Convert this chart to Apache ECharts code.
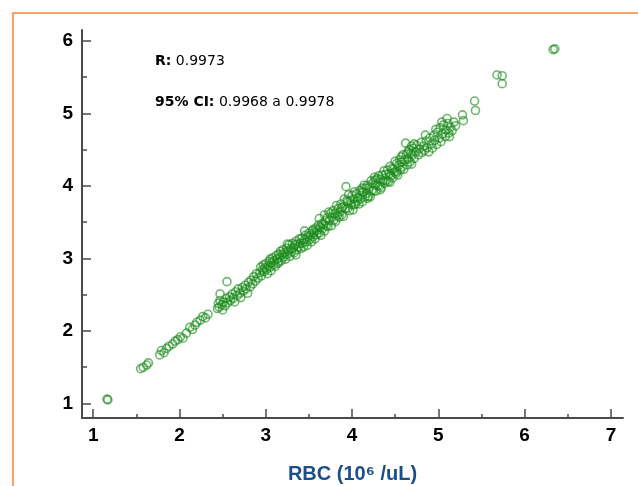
<!DOCTYPE html>
<html>
<head>
<meta charset="utf-8">
<script src="https://cdn.jsdelivr.net/npm/echarts@6/dist/echarts.min.js"></script>
<style>
  html, body { margin: 0; padding: 0; background: #fff; }
  #chart { width: 638px; height: 486px; }
</style>
</head>
<body>
<div id="chart"></div>
<script>
// reference RBC vs. test RBC
const rbcPoints = [
  [1.16, 1.06], [1.17, 1.05],
  [1.55, 1.48], [1.58, 1.50], [1.62, 1.53], [1.64, 1.56],
  [1.77, 1.67], [1.79, 1.73], [1.82, 1.70], [1.85, 1.76], [1.88, 1.79], [1.92, 1.82],
  [1.95, 1.86], [1.98, 1.88], [2.01, 1.92], [2.04, 1.90], [2.08, 1.97], [2.12, 2.05],
  [2.15, 2.02], [2.18, 2.08], [2.20, 2.12], [2.24, 2.15], [2.27, 2.20], [2.30, 2.18], [2.33, 2.23],
  // 2.4 - 2.9
  [2.44, 2.31], [2.45, 2.38], [2.46, 2.33], [2.47, 2.42], [2.47, 2.51], [2.49, 2.36],
  [2.50, 2.29], [2.51, 2.40], [2.53, 2.35], [2.54, 2.45], [2.55, 2.68], [2.56, 2.39],
  [2.58, 2.47], [2.59, 2.42], [2.61, 2.51], [2.62, 2.45], [2.64, 2.40], [2.65, 2.54],
  [2.67, 2.49], [2.68, 2.58], [2.70, 2.52], [2.71, 2.46], [2.73, 2.60], [2.74, 2.55],
  [2.76, 2.63], [2.77, 2.58], [2.79, 2.52], [2.80, 2.67], [2.82, 2.61], [2.83, 2.70],
  [2.85, 2.65], [2.86, 2.75], [2.88, 2.69], [2.89, 2.79], [2.91, 2.73],
  // 2.9 - 3.7
  [2.93, 2.80], [2.94, 2.88], [2.95, 2.76], [2.96, 2.84], [2.97, 2.91], [2.98, 2.82],
  [2.99, 2.87], [3.00, 2.93], [3.01, 2.85], [3.02, 2.79], [3.03, 2.90], [3.04, 2.96],
  [3.05, 2.88], [3.05, 2.99], [3.06, 2.83], [3.07, 2.94], [3.08, 3.01], [3.09, 2.91],
  [3.10, 2.97], [3.11, 2.89], [3.12, 3.04], [3.13, 2.99], [3.14, 2.93], [3.15, 3.06],
  [3.15, 2.95], [3.16, 3.01], [3.17, 3.10], [3.18, 2.97], [3.19, 3.05], [3.20, 3.12],
  [3.21, 3.02], [3.22, 3.08], [3.23, 2.99], [3.24, 3.14], [3.25, 3.06], [3.25, 3.20],
  [3.26, 3.11], [3.27, 3.19], [3.28, 3.03], [3.29, 3.13], [3.30, 3.09], [3.31, 3.21],
  [3.32, 3.15], [3.33, 3.08], [3.34, 3.19], [3.35, 3.24], [3.35, 3.05], [3.36, 3.12],
  [3.37, 3.20], [3.38, 3.16], [3.39, 3.27], [3.40, 3.21], [3.41, 3.14], [3.42, 3.28],
  [3.43, 3.21], [3.44, 3.16], [3.45, 3.26], [3.45, 3.38], [3.46, 3.32], [3.47, 3.23],
  [3.48, 3.18], [3.49, 3.30], [3.50, 3.35], [3.51, 3.26], [3.52, 3.32], [3.53, 3.23],
  [3.54, 3.38], [3.55, 3.30], [3.55, 3.40], [3.56, 3.35], [3.57, 3.27], [3.58, 3.42],
  [3.59, 3.33], [3.60, 3.39], [3.61, 3.46], [3.62, 3.35], [3.62, 3.55], [3.63, 3.43],
  [3.64, 3.32], [3.65, 3.48], [3.66, 3.41], [3.67, 3.47], [3.68, 3.38], [3.68, 3.60],
  [3.69, 3.52], [3.70, 3.45],
  // 3.7 - 4.7
  [3.71, 3.56], [3.72, 3.44], [3.73, 3.64], [3.74, 3.52], [3.75, 3.62], [3.76, 3.45],
  [3.77, 3.57], [3.78, 3.66], [3.79, 3.53], [3.80, 3.62], [3.81, 3.51], [3.82, 3.73],
  [3.83, 3.59], [3.84, 3.69], [3.85, 3.57], [3.86, 3.64], [3.87, 3.75], [3.88, 3.60],
  [3.88, 3.70], [3.89, 3.71], [3.90, 3.58], [3.91, 3.82], [3.92, 3.69], [3.93, 3.99],
  [3.94, 3.80], [3.95, 3.69], [3.95, 3.78], [3.96, 3.88], [3.97, 3.66], [3.98, 3.80],
  [3.99, 3.74], [4.00, 3.87], [4.01, 3.67], [4.02, 3.82], [4.02, 3.74], [4.03, 3.92],
  [4.04, 3.75], [4.05, 3.89], [4.06, 3.79], [4.07, 3.84], [4.08, 3.75], [4.09, 3.94],
  [4.10, 3.82], [4.11, 3.92], [4.12, 3.78], [4.12, 3.97], [4.13, 3.91], [4.14, 4.01],
  [4.15, 3.85], [4.16, 3.97], [4.17, 3.90], [4.18, 4.01], [4.18, 3.83], [4.19, 3.86],
  [4.20, 3.98], [4.21, 3.85], [4.22, 4.07], [4.23, 3.94], [4.24, 4.04], [4.25, 3.93],
  [4.26, 4.12], [4.27, 4.01], [4.27, 4.08], [4.28, 3.93], [4.29, 4.10], [4.30, 4.01],
  [4.31, 4.14], [4.32, 4.00], [4.33, 4.09], [4.33, 3.95], [4.34, 3.98], [4.35, 4.15],
  [4.36, 4.07], [4.37, 4.21], [4.38, 4.04], [4.39, 4.16], [4.40, 4.08], [4.41, 4.22],
  [4.42, 4.06], [4.43, 4.17], [4.44, 4.27], [4.44, 4.05], [4.45, 4.14], [4.46, 4.24],
  [4.47, 4.11], [4.48, 4.23], [4.49, 4.19], [4.50, 4.34], [4.51, 4.17], [4.52, 4.31],
  [4.52, 4.20], [4.53, 4.15], [4.54, 4.28], [4.55, 4.36], [4.56, 4.22], [4.57, 4.33],
  [4.57, 4.40], [4.58, 4.26], [4.59, 4.43], [4.60, 4.23], [4.61, 4.36], [4.62, 4.59],
  [4.63, 4.44], [4.64, 4.29], [4.65, 4.37], [4.65, 4.47], [4.66, 4.50], [4.67, 4.33],
  [4.68, 4.45], [4.69, 4.30], [4.69, 4.55], [4.70, 4.43],
  // 4.7 and up
  [4.71, 4.52], [4.72, 4.38], [4.72, 4.58], [4.74, 4.47], [4.75, 4.56], [4.77, 4.43],
  [4.78, 4.51], [4.80, 4.60], [4.81, 4.46], [4.83, 4.55], [4.84, 4.49], [4.85, 4.70],
  [4.86, 4.62], [4.87, 4.53], [4.89, 4.47], [4.90, 4.66], [4.92, 4.58], [4.93, 4.52],
  [4.95, 4.70], [4.96, 4.63], [4.97, 4.78], [4.98, 4.57], [4.99, 4.74], [5.01, 4.66],
  [5.02, 4.80], [5.03, 4.61], [5.04, 4.88], [5.05, 4.72], [5.06, 4.84], [5.08, 4.68],
  [5.09, 4.77], [5.10, 4.93], [5.11, 4.86], [5.12, 4.73], [5.13, 4.68], [5.14, 4.81],
  [5.16, 4.76], [5.18, 4.88], [5.20, 4.83], [5.28, 4.98], [5.29, 4.90],
  [5.42, 5.17], [5.43, 5.04], [5.68, 5.53], [5.74, 5.52], [5.74, 5.41],
  [6.33, 5.88], [6.35, 5.89]
]

const xTicks = [1, 2, 3, 4, 5, 6, 7]
const xMinorTicks = [1.5, 2.5, 3.5, 4.5, 5.5, 6.5]
const yTicks = [1, 2, 3, 4, 5, 6]
const yMinorTicks = [1.5, 2.5, 3.5, 4.5, 5.5]

const statR = '0.9973'
const statCILow = '0.9968'
const statCIHigh = '0.9978'
const xAxisName = 'RBC (10\u2076 /uL)'

const axisColor = '#4a4a4a'
const labelFont = { color: '#000', fontSize: 19, fontWeight: 'bold', fontFamily: 'Liberation Sans' }

const chart = echarts.init(document.getElementById('chart'))

const majorX = {
  type: 'value',
  min: 0.87,
  max: 7.14,
  gridIndex: 0,
  position: 'bottom',
  name: xAxisName,
  nameLocation: 'middle',
  nameGap: 46,
  nameTextStyle: { color: '#1c4e8a', fontSize: 20, fontWeight: 'bold', fontFamily: 'Liberation Sans' },
  axisLine: { show: true, lineStyle: { color: axisColor, width: 2 } },
  axisTick: { show: true, inside: true, length: 9, customValues: xTicks, lineStyle: { color: axisColor, width: 1.5 } },
  axisLabel: { show: true, margin: 8, customValues: xTicks, ...labelFont },
  splitLine: { show: false }
}

const minorX = {
  type: 'value',
  min: 0.87,
  max: 7.14,
  gridIndex: 0,
  position: 'bottom',
  axisLine: { show: false },
  axisTick: { show: true, inside: true, length: 4, customValues: xMinorTicks, lineStyle: { color: axisColor, width: 1.5 } },
  axisLabel: { show: false },
  splitLine: { show: false }
}

const majorY = {
  type: 'value',
  min: 0.8,
  max: 6.15,
  gridIndex: 0,
  position: 'left',
  axisLine: { show: true, lineStyle: { color: axisColor, width: 2 } },
  axisTick: { show: true, inside: true, length: 9, customValues: yTicks, lineStyle: { color: axisColor, width: 1.5 } },
  axisLabel: { show: true, margin: 9, customValues: yTicks, ...labelFont },
  splitLine: { show: false }
}

const minorY = {
  type: 'value',
  min: 0.8,
  max: 6.15,
  gridIndex: 0,
  position: 'left',
  axisLine: { show: false },
  axisTick: { show: true, inside: true, length: 5, customValues: yMinorTicks, lineStyle: { color: axisColor, width: 1.5 } },
  axisLabel: { show: false },
  splitLine: { show: false }
}

const option = {
  animation: false,
  backgroundColor: '#fff',
  grid: { left: 82, right: 15, top: 30, bottom: 68, containLabel: false, outerBoundsMode: 'none' },
  xAxis: [majorX, minorX],
  yAxis: [majorY, minorY],
  graphic: [
    {
      type: 'rect',
      shape: { x: 13, y: 13, width: 700, height: 600 },
      style: { fill: 'none', stroke: '#f5873a', lineWidth: 1.5 },
      silent: true
    },
    {
      type: 'text',
      left: 155,
      top: 54,
      style: {
        text: '{b|R:} ' + statR,
        fill: '#000',
        font: '14px "DejaVu Sans"',
        rich: { b: { fontWeight: 'bold', fontSize: 14, fontFamily: 'DejaVu Sans', fill: '#000' } }
      }
    },
    {
      type: 'text',
      left: 155,
      top: 95,
      style: {
        text: '{b|95% CI:} ' + statCILow + ' a ' + statCIHigh,
        fill: '#000',
        font: '14px "DejaVu Sans"',
        rich: { b: { fontWeight: 'bold', fontSize: 14, fontFamily: 'DejaVu Sans', fill: '#000' } }
      }
    }
  ],
  series: [
    {
      type: 'scatter',
      xAxisIndex: 0,
      yAxisIndex: 0,
      data: rbcPoints,
      symbol: 'circle',
      symbolSize: 8,
      itemStyle: {
        color: 'rgba(255,255,255,0)',
        borderColor: 'rgba(24,138,24,0.78)',
        borderWidth: 1.6
      }
    }
  ]
}

chart.setOption(option)
</script>
</body>
</html>
